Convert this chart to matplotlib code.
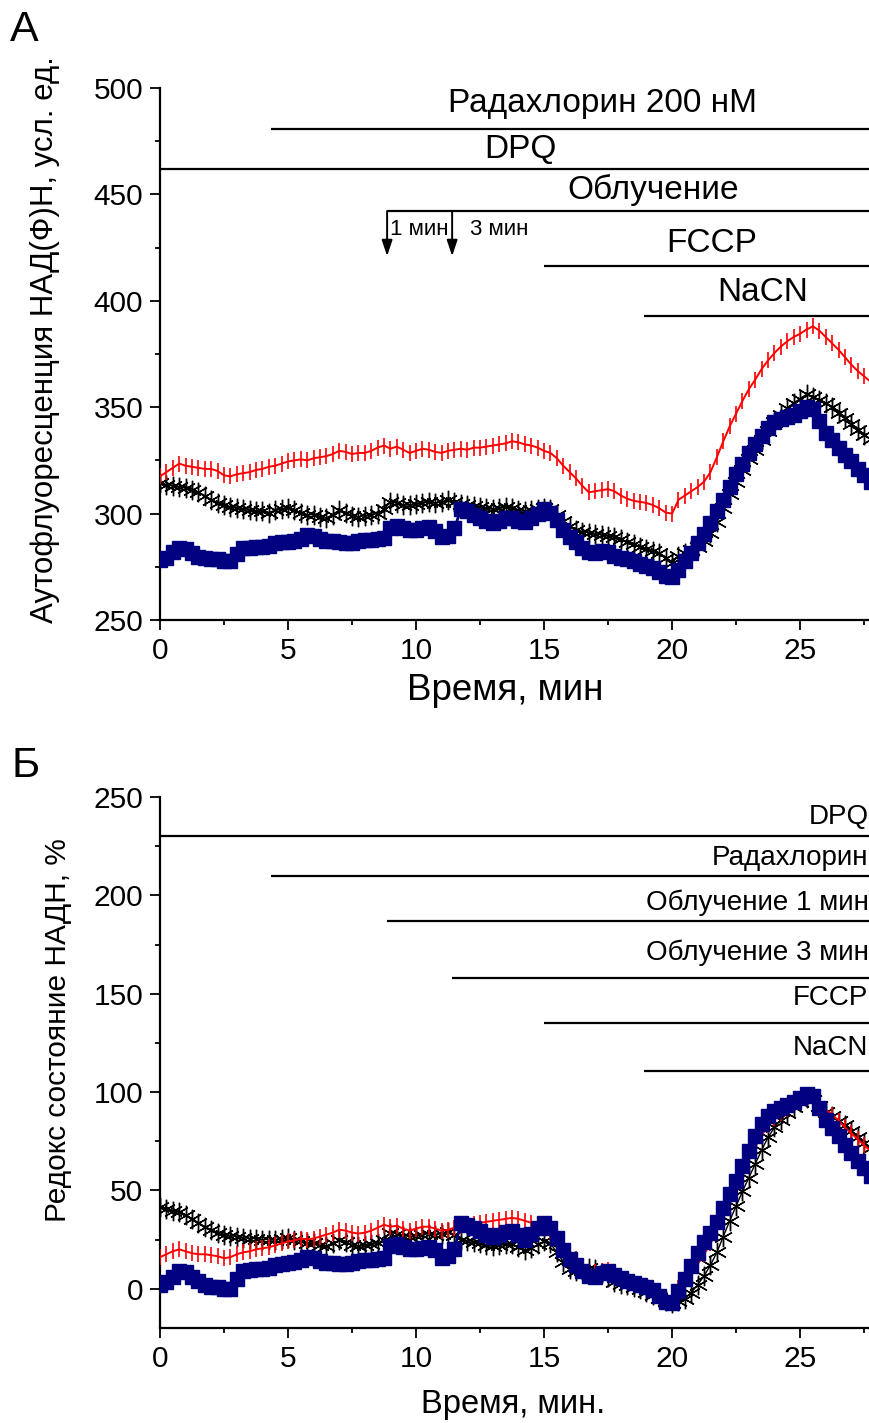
import numpy as np
import matplotlib
matplotlib.use("Agg")
import matplotlib.pyplot as plt
from matplotlib import font_manager

# ---------------------------------------------------------------- data
TIME_STEP = 0.25  # min between samples
N_SAMPLES = 112

# Panel A: NAD(P)H autofluorescence, arb. units
RED_A = [
    317.5, 319.5, 321.5, 323.5, 322.5, 322.0, 321.5, 321.0,
    321.0, 320.0, 318.0, 317.5, 318.5, 319.0, 319.5, 320.5,
    321.0, 322.0, 322.5, 323.5, 324.5, 325.0, 325.5, 325.0,
    326.0, 326.5, 327.0, 328.0, 329.5, 329.0, 328.0, 328.5,
    328.5, 329.5, 331.0, 332.0, 330.5, 331.5, 330.0, 328.5,
    329.5, 330.5, 330.0, 329.0, 328.5, 329.5, 330.0, 330.5,
    330.0, 331.0, 331.0, 331.5, 332.0, 332.5, 333.0, 334.0,
    333.5, 332.5, 332.0, 331.0, 329.5, 328.5, 326.0, 322.5,
    319.5, 316.5, 313.0, 310.0, 310.5, 311.0, 311.5, 310.5,
    308.5, 307.0, 306.0, 305.5, 305.0, 304.0, 302.5, 300.5,
    300.0, 306.5, 308.5, 310.5, 312.5, 315.0, 319.5, 326.5,
    334.0, 341.0, 347.0, 353.0, 358.5, 363.0, 368.0, 372.0,
    375.5, 378.5, 381.0, 383.0, 384.5, 386.5, 388.0, 386.0,
    383.0, 380.0, 377.0, 373.5, 370.0, 367.0, 364.5, 362.0,
]
BLACK_A = [
    314.5, 313.5, 313.0, 312.5, 312.0, 311.0, 310.0, 308.5,
    306.5, 305.0, 304.0, 303.0, 302.5, 302.0, 301.5, 301.0,
    301.0, 300.5, 301.5, 302.0, 302.5, 301.5, 300.5, 299.5,
    299.5, 298.5, 298.0, 299.5, 301.5, 300.5, 299.0, 298.5,
    299.0, 299.5, 300.0, 302.0, 305.5, 305.0, 304.0, 304.0,
    304.5, 305.0, 305.5, 305.0, 305.5, 306.5, 305.5, 304.5,
    304.0, 303.5, 303.0, 302.5, 302.0, 302.5, 303.0, 302.5,
    301.5, 301.0, 301.5, 302.0, 302.5, 302.0, 299.5, 296.5,
    294.0, 292.5, 291.5, 291.0, 290.5, 290.0, 289.5, 289.0,
    288.0, 286.5, 285.5, 284.5, 283.5, 282.5, 281.5, 279.0,
    277.0, 280.0, 281.5, 283.0, 284.5, 287.0, 291.0, 296.0,
    302.5, 309.0, 315.0, 320.5, 325.5, 330.0, 334.5, 339.0,
    343.0, 346.5, 349.5, 352.0, 354.0, 356.0, 355.0, 353.5,
    352.0, 350.0, 347.5, 345.0, 342.0, 339.5, 337.0, 335.0,
]
BLUE_A = [
    278.0, 279.0, 282.0, 284.0, 283.5, 281.5, 279.5, 279.0,
    278.5, 278.5, 277.5, 277.5, 281.0, 284.0, 284.0, 284.5,
    284.5, 285.0, 286.0, 286.5, 286.5, 287.0, 288.0, 290.0,
    289.5, 288.0, 287.0, 287.0, 286.5, 286.0, 286.0, 287.0,
    287.5, 287.5, 288.0, 288.5, 293.0, 294.0, 293.0, 292.5,
    292.5, 293.0, 293.5, 292.0, 289.0, 289.5, 293.0, 302.0,
    301.0, 299.5, 298.0, 296.5, 295.5, 296.5, 298.0, 298.0,
    296.5, 296.0, 298.0, 300.0, 302.0, 300.5, 297.0, 292.5,
    289.0, 286.5, 284.0, 282.0, 281.5, 282.5, 282.0, 280.0,
    279.0, 278.5, 277.5, 276.5, 275.5, 274.5, 272.5, 270.5,
    270.0, 273.5, 277.5, 281.5, 286.0, 290.5, 295.5, 301.0,
    306.5, 312.5, 318.5, 323.5, 328.5, 332.5, 336.5, 340.0,
    343.0, 344.5, 345.5, 346.5, 348.0, 350.0, 349.0, 343.5,
    338.0, 334.5, 331.0, 327.5, 324.5, 321.0, 318.0, 315.0,
]

# Panel B: NADH redox state, %
RED_B = [
    16.0, 17.5, 19.0, 20.0, 19.0, 18.0, 17.5, 17.5,
    17.0, 16.5, 15.5, 16.0, 17.5, 18.5, 19.0, 20.0,
    20.5, 21.0, 22.0, 23.0, 24.0, 24.5, 25.5, 25.0,
    25.5, 26.5, 27.5, 28.5, 30.0, 29.5, 28.5, 28.0,
    28.5, 29.5, 31.0, 32.5, 31.5, 32.0, 30.5, 29.5,
    30.5, 31.5, 31.5, 30.5, 29.5, 30.0, 31.0, 32.0,
    32.0, 33.0, 33.5, 34.0, 34.5, 35.0, 35.5, 36.0,
    35.5, 34.5, 33.5, 32.5, 31.0, 29.5, 26.5, 22.5,
    19.0, 15.0, 11.5, 8.5, 8.5, 9.0, 9.5, 8.5,
    6.5, 4.5, 3.5, 2.5, 1.5, 0.0, -2.0, -4.5,
    -6.0, 0.5, 4.0, 8.0, 12.5, 17.5, 23.0, 29.5,
    37.0, 44.5, 51.5, 58.5, 65.5, 72.0, 78.0, 83.0,
    87.0, 89.5, 91.5, 93.5, 95.5, 97.5, 97.0, 94.0,
    91.0, 88.5, 85.5, 82.0, 79.0, 76.0, 73.0, 70.0,
]
BLACK_B = [
    41.5, 40.5, 39.5, 39.0, 37.5, 35.5, 33.5, 31.5,
    30.0, 28.5, 27.5, 27.0, 26.5, 26.0, 25.5, 25.5,
    25.0, 25.0, 24.5, 25.5, 26.0, 25.0, 24.0, 23.0,
    23.0, 22.0, 21.5, 23.0, 24.5, 23.5, 22.0, 21.5,
    22.0, 22.5, 23.0, 25.0, 28.5, 28.0, 27.0, 26.5,
    27.0, 27.5, 28.0, 27.5, 28.0, 29.0, 27.5, 25.0,
    24.0, 23.5, 23.0, 22.0, 21.5, 22.0, 22.5, 22.5,
    21.0, 19.5, 20.5, 22.5, 24.0, 23.0, 18.5, 13.5,
    10.0, 9.0, 9.5, 10.5, 10.0, 8.0, 6.0, 3.5,
    2.5, 2.0, 1.0, 0.0, -1.5, -3.0, -4.5, -6.5,
    -7.5, -6.5, -5.0, -2.0, 2.0, 6.5, 12.0, 18.5,
    26.5, 34.5, 42.0, 49.5, 56.5, 63.5, 70.5, 77.0,
    82.0, 86.0, 89.5, 92.5, 95.0, 97.0, 96.0, 93.0,
    90.0, 88.0, 85.5, 83.0, 80.0, 77.0, 74.0, 71.5,
]
BLUE_B = [
    2.0, 3.5, 6.0, 9.0, 8.5, 6.0, 4.0, 2.0,
    1.0, 1.0, 0.0, 0.0, 5.0, 9.0, 9.5, 10.0,
    10.0, 10.5, 12.0, 12.5, 13.0, 13.5, 14.5, 16.0,
    15.5, 14.0, 13.0, 13.0, 12.5, 12.5, 13.0, 14.0,
    14.5, 14.5, 15.0, 15.5, 21.5, 22.5, 21.0, 20.0,
    20.0, 20.5, 21.0, 19.5, 15.5, 16.5, 20.0, 33.5,
    32.5, 31.0, 29.5, 27.5, 26.5, 27.5, 29.0, 29.5,
    27.5, 25.0, 28.0, 31.0, 33.5, 31.0, 26.0, 19.5,
    15.0, 12.0, 9.0, 6.5, 6.0, 8.0, 9.0, 7.0,
    5.5, 4.0, 3.0, 2.0, 1.0, -0.5, -3.5, -7.0,
    -7.5, -1.0, 5.0, 11.5, 18.0, 23.5, 28.5, 34.0,
    41.0, 48.0, 55.0, 62.5, 70.0, 77.5, 83.5, 88.0,
    90.5, 92.0, 93.5, 95.0, 97.0, 99.0, 98.0, 92.0,
    86.0, 81.5, 77.5, 73.0, 69.0, 65.0, 61.5, 57.5,
]

# treatment onsets, min
T_DPQ = 0.0
T_RADACHLORIN = 4.35
T_LIGHT_1 = 8.87
T_LIGHT_3 = 11.41
T_FCCP = 15.0
T_NACN = 18.9

X_MAX = 27.73

# ---------------------------------------------------------------- fonts
names = {f.name for f in font_manager.fontManager.ttflist}
BASE = "Liberation Sans" if "Liberation Sans" in names else "DejaVu Sans"
plt.rcParams["font.family"] = [BASE, "DejaVu Sans"]

time = np.arange(N_SAMPLES) * TIME_STEP

W, H = 870, 1423
fig = plt.figure(figsize=(W / 100, H / 100), dpi=100)
axA = fig.add_axes([160 / W, 1 - 620 / H, 710 / W, 532 / H])
axB = fig.add_axes([160 / W, 1 - 1328 / H, 710 / W, 531 / H])


def style_axes(ax, ylim, ymaj, ymin):
    ax.set_xlim(0, X_MAX)
    ax.set_ylim(*ylim)
    for side in ("top", "right"):
        ax.spines[side].set_visible(False)
    for side in ("left", "bottom"):
        ax.spines[side].set_linewidth(1.6)
    ax.set_xticks(np.arange(0, 26, 5))
    ax.set_xticks(np.arange(2.5, 28, 5), minor=True)
    ax.set_yticks(ymaj)
    ax.set_yticks(ymin, minor=True)
    ax.tick_params(which="both", direction="out", width=1.3, labelsize=21.5,
                   top=False, right=False)
    ax.tick_params(which="major", length=7, pad=5)
    ax.tick_params(which="minor", length=3.5)


def draw_traces(ax, red, black, blue):
    ax.plot(time, black, color="black", lw=1.0, marker=(6, 2, 0), ms=14,
            mew=1.0, zorder=2)
    ax.plot(time, red, color="red", lw=1.4, marker="|", ms=12, mew=1.2,
            zorder=3)
    ax.plot(time, blue, color="#000080", lw=2.0, marker="s", ms=10.5,
            mec="#000080", mfc="#000080", zorder=4)


# ---------------------------------------------------------------- panel A
style_axes(axA, (250, 500), np.arange(250, 501, 50), np.arange(275, 500, 50))
draw_traces(axA, RED_A, BLACK_A, BLUE_A)

bar_kw = dict(color="black", lw=1.6, clip_on=False)
axA.hlines(480.7, T_RADACHLORIN, X_MAX, **bar_kw)
axA.hlines(462.0, T_DPQ, X_MAX, **bar_kw)
axA.hlines(442.2, T_LIGHT_1, X_MAX, **bar_kw)
axA.hlines(416.4, T_FCCP, X_MAX, **bar_kw)
axA.hlines(393.0, T_NACN, X_MAX, **bar_kw)

lab_kw = dict(ha="center", va="center", fontsize=24)
axA.text(17.30, 492.5, "Радахлорин 200 нМ", **lab_kw)
axA.text(14.06, 470.9, "DPQ", **lab_kw)
axA.text(19.26, 452.1, "Облучение", **lab_kw)
axA.text(21.56, 426.7, "FCCP", **lab_kw)
axA.text(23.55, 403.7, "NaCN", **lab_kw)

for t_on in (T_LIGHT_1, T_LIGHT_3):
    axA.annotate("", xy=(t_on, 421.0), xytext=(t_on, 442.2),
                 arrowprops=dict(arrowstyle="-|>,head_length=0.6,head_width=0.2",
                                 color="black", lw=1.4, mutation_scale=16,
                                 shrinkA=0, shrinkB=0))
axA.text(T_LIGHT_1 + 0.12, 433.7, "1 мин", ha="left", va="center", fontsize=16)
axA.text(T_LIGHT_3 + 0.7, 433.7, "3 мин", ha="left", va="center", fontsize=16)

axA.set_xlabel("Время, мин", fontsize=26.5)
axA.xaxis.set_label_coords((505 - 160) / 710, -(690 - 620) / 532)
axA.xaxis.label.set_va("center")
axA.set_ylabel("Аутофлуоресценция НАД(Ф)Н, усл. ед.", fontsize=22.5)
axA.yaxis.set_label_coords((45 - 160) / 710, (620 - 340) / 532)
axA.yaxis.label.set_va("center")

fig.text(10 / W, 1 - 30 / H, "А", fontsize=31, ha="left", va="center")

# ---------------------------------------------------------------- panel B
style_axes(axB, (-20, 250), np.arange(0, 251, 50), np.arange(25, 250, 50))
draw_traces(axB, RED_B, BLACK_B, BLUE_B)

axB.hlines(230.1, T_DPQ, X_MAX, **bar_kw)
axB.hlines(209.8, T_RADACHLORIN, X_MAX, **bar_kw)
axB.hlines(186.9, T_LIGHT_1, X_MAX, **bar_kw)
axB.hlines(157.8, T_LIGHT_3, X_MAX, **bar_kw)
axB.hlines(134.9, T_FCCP, X_MAX, **bar_kw)
axB.hlines(110.5, T_NACN, X_MAX, **bar_kw)

rk = dict(ha="right", va="center", fontsize=20, transform=axB.get_yaxis_transform())
axB.text(0.998, 239.8, "DPQ", **rk)
axB.text(0.998, 218.9, "Радахлорин", **rk)
axB.text(0.998, 196.0, "Облучение 1 мин", **rk)
axB.text(0.998, 170.6, "Облучение 3 мин", **rk)
axB.text(0.998, 147.7, "FCCP", **rk)
axB.text(0.998, 122.2, "NaCN", **rk)

axB.set_xlabel("Время, мин.", fontsize=23.5)
axB.xaxis.set_label_coords((513 - 160) / 710, -(1405 - 1328) / 531)
axB.xaxis.label.set_va("center")
axB.set_ylabel("Редокс состояние НАДН, %", fontsize=21.5)
axB.yaxis.set_label_coords((58 - 160) / 710, (1328 - 1030) / 531)
axB.yaxis.label.set_va("center")

fig.text(12 / W, 1 - 766 / H, "Б", fontsize=31, ha="left", va="center")

fig.savefig("out.png", dpi=100)
